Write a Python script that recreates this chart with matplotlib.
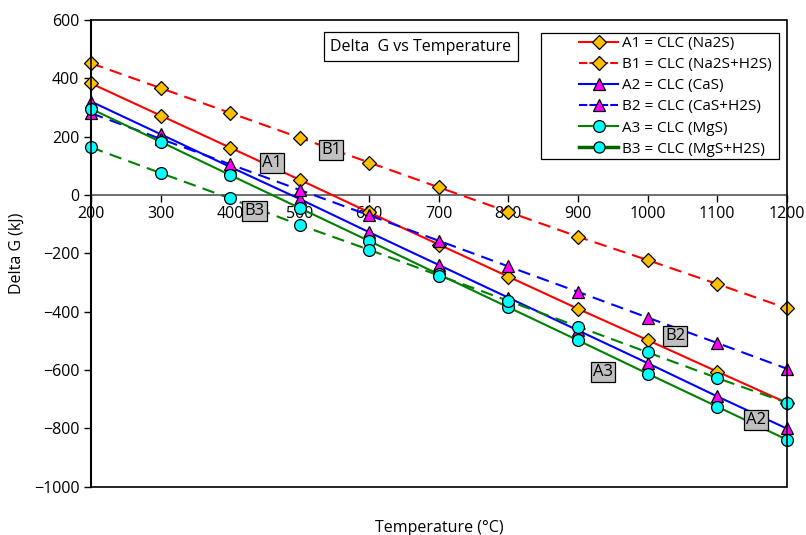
import matplotlib
matplotlib.use('Agg')
import matplotlib.pyplot as plt
from matplotlib.lines import Line2D
from matplotlib.patches import Rectangle

plt.rcParams['font.family'] = ['Open Sans', 'DejaVu Sans']

temperature = [200, 300, 400, 500, 600, 700, 800, 900, 1000, 1100, 1200]
a1_na2s = [382, 272, 162, 52, -60, -170, -280, -390, -497, -605, -712]
b1_na2s_h2s = [451, 366, 281, 196, 111, 26, -58, -143, -223, -305, -388]
a2_cas = [320, 208, 96, -14, -128, -240, -352, -464, -576, -690, -800]
b2_cas_h2s = [280, 192, 105, 17, -70, -157, -245, -332, -420, -507, -595]
a3_mgs = [295, 182, 68, -45, -158, -272, -385, -498, -612, -725, -838]
b3_mgs_h2s = [163, 75, -12, -103, -188, -276, -363, -451, -539, -627, -712]

series_labels = ['A1 = CLC (Na2S)', 'B1 = CLC (Na2S+H2S)', 'A2 = CLC (CaS)',
                 'B2 = CLC (CaS+H2S)', 'A3 = CLC (MgS)', 'B3 = CLC (MgS+H2S)']
x_ticks = [200, 300, 400, 500, 600, 700, 800, 900, 1000, 1100, 1200]
y_ticks = [-1000, -800, -600, -400, -200, 0, 200, 400, 600]

annotations = [('A1', 460, 110), ('B1', 545, 155), ('B3', 435, -55),
               ('A3', 936, -605), ('B2', 1040, -482), ('A2', 1156, -772)]

fig = plt.figure(figsize=(8.06, 5.35), dpi=100)
ax = fig.add_axes([0.113, 0.09, 0.863, 0.873])

dash = (6, 3.5)
styles = [
    dict(color='#FF0000', ls='-', marker='D', mfc='#FFC000', ms=6.8),
    dict(color='#FF0000', ls=(0, dash), marker='D', mfc='#FFC000', ms=6.8),
    dict(color='#0000FF', ls='-', marker='^', mfc='#FF00FF', ms=8),
    dict(color='#0000FF', ls=(0, dash), marker='^', mfc='#FF00FF', ms=8),
    dict(color='#008000', ls='-', marker='o', mfc='#00FFFF', ms=8.5),
    dict(color='#008000', ls=(0, dash), marker='o', mfc='#00FFFF', ms=8.5),
]
data = [a1_na2s, b1_na2s_h2s, a2_cas, b2_cas_h2s, a3_mgs, b3_mgs_h2s]
for i, (vals, st) in enumerate(zip(data, styles)):
    ax.plot(temperature, vals, lw=1.5, mec='black', mew=0.9, clip_on=False,
            zorder=3 + i, color=st['color'], ls=st['ls'], marker=st['marker'],
            mfc=st['mfc'], ms=st['ms'])

ax.set_xlim(200, 1200)
ax.set_ylim(-1000, 600)
ax.set_xticks(x_ticks)
ax.set_yticks(y_ticks)
ax.set_yticklabels([f'{v}'.replace('-', '\u2212') for v in y_ticks])

for s in ['top', 'right']:
    ax.spines[s].set_visible(False)
ax.spines['left'].set_linewidth(1.5)
ax.spines['bottom'].set_position(('data', 0))
ax.spines['bottom'].set_color('#555555')
ax.spines['bottom'].set_linewidth(1.2)
ax.add_patch(Rectangle((0, 0), 1, 1, transform=ax.transAxes, fill=False,
                       edgecolor='black', lw=1.2, clip_on=False, zorder=20))

ax.tick_params(axis='both', labelsize=11.5, direction='out', length=5, width=1.0)
ax.tick_params(axis='x', pad=3)

ax.set_ylabel('Delta G (kJ)', fontsize=11.5, labelpad=6)
ax.set_xlabel('Temperature (\u00b0C)', fontsize=11.5)
ax.xaxis.set_label_coords(0.5, -0.072)

for txt, xv, yv in annotations:
    ax.text(xv, yv, txt, fontsize=12, ha='center', va='center', zorder=15,
            bbox=dict(boxstyle='square,pad=0.12', fc='#C0C0C0', ec='black', lw=0.9))

ax.text(0.474, 0.942, 'Delta  G vs Temperature', transform=ax.transAxes,
        fontsize=11.5, ha='center', va='center', zorder=15,
        bbox=dict(boxstyle='square,pad=0.4', fc='white', ec='black', lw=0.9))

# legend frame (wider than its content, as in the reference)
ax.add_patch(Rectangle((0.647, 0.702), 0.342, 0.270, transform=ax.transAxes,
                       fc='white', ec='black', lw=0.9, zorder=24))

handles = []
for i, st in enumerate(styles):
    if i == 5:
        handles.append(Line2D([], [], color='#006400', lw=2.5, ls='-', marker='o',
                              mfc='#00FFFF', mec='black', ms=8, mew=0.9))
    else:
        handles.append(Line2D([], [], color=st['color'], lw=1.5,
                              ls=st['ls'] if i % 2 == 0 else (0, (4, 1)),
                              marker=st['marker'], mfc=st['mfc'], mec='black',
                              ms=st['ms'], mew=0.9))
leg = ax.legend(handles, series_labels, loc='upper left', bbox_to_anchor=(0.701, 0.965),
                fontsize=11, frameon=False, borderpad=0, labelspacing=0.4,
                handlelength=2.6, handletextpad=0.25, borderaxespad=0)
leg.set_zorder(25)

fig.savefig('out.png', dpi=100)
